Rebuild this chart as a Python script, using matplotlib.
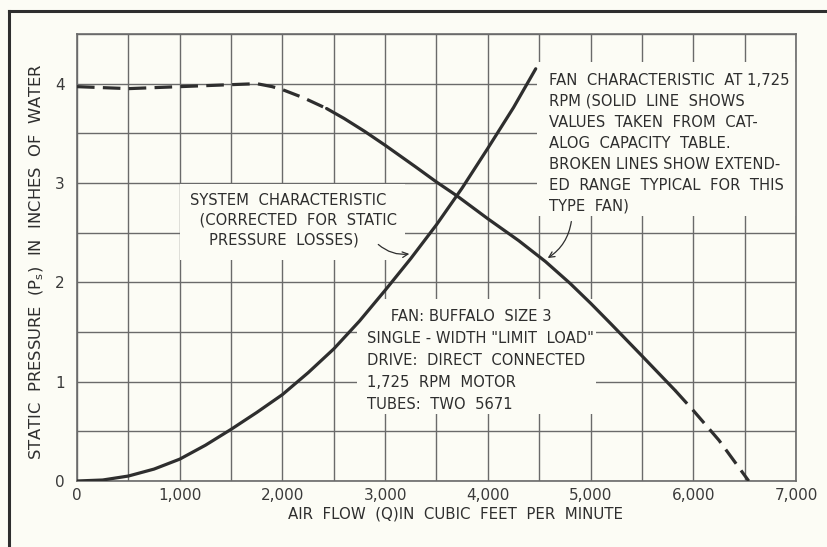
import numpy as np
import matplotlib
matplotlib.use('Agg')
import matplotlib.pyplot as plt
from matplotlib.patches import Rectangle

# fan characteristic at 1,725 rpm
fan_q = [0, 250, 500, 750, 1000, 1250, 1500, 1750, 1900, 2000, 2200, 2430, 2600, 2800, 3000, 3300, 3500,
         3700, 4000, 4300, 4560, 4800, 5000, 5200, 5500, 5825, 6000, 6250, 6540]
fan_p = [3.97, 3.96, 3.95, 3.96, 3.97, 3.98, 3.99, 4.0, 3.97, 3.94, 3.86, 3.75, 3.65, 3.52, 3.38, 3.16, 3.01,
         2.87, 2.64, 2.42, 2.21, 1.99, 1.79, 1.58, 1.26, 0.91, 0.71, 0.41, 0.0]
catalog_lo, catalog_hi = 2430, 5825   # solid part = catalog values

# system characteristic
sys_q = [0, 250, 500, 750, 1000, 1250, 1500, 1750, 2000, 2250, 2500, 2750, 3000, 3250, 3500, 3750, 4000, 4250, 4466]
sys_p = [0.0, 0.01, 0.05, 0.12, 0.22, 0.36, 0.52, 0.69, 0.87, 1.09, 1.33, 1.61, 1.92, 2.24, 2.58, 2.95, 3.35, 3.76, 4.15]

x_ticks = [0, 1000, 2000, 3000, 4000, 5000, 6000, 7000]
x_ticklabels = ["0", "1,000", "2,000", "3,000", "4,000", "5,000", "6,000", "7,000"]
y_ticks = [0, 1, 2, 3, 4]

fan_text = ("FAN  CHARACTERISTIC  AT 1,725\n"
            "RPM (SOLID  LINE  SHOWS\n"
            "VALUES  TAKEN  FROM  CAT-\n"
            "ALOG  CAPACITY  TABLE.\n"
            "BROKEN LINES SHOW EXTEND-\n"
            "ED  RANGE  TYPICAL  FOR  THIS\n"
            "TYPE  FAN)")
sys_text = ("SYSTEM  CHARACTERISTIC\n"
            "  (CORRECTED  FOR  STATIC\n"
            "    PRESSURE  LOSSES)")
info_text = ("     FAN: BUFFALO  SIZE 3\n"
             "SINGLE - WIDTH \"LIMIT  LOAD\"\n"
             "DRIVE:  DIRECT  CONNECTED\n"
             "1,725  RPM  MOTOR\n"
             "TUBES:  TWO  5671")

bg = '#fcfcf5'
ink = '#2e2e2e'
grid_c = '#6a6a6a'

plt.rcParams['font.family'] = ['DejaVu Sans']
fig = plt.figure(figsize=(8.28, 5.47), dpi=100, facecolor=bg)
ax = fig.add_axes([77 / 828, 1 - 481 / 547, (796 - 77) / 828, (481 - 34) / 547])
ax.set_facecolor(bg)

# outer frame of the figure (top and left edges visible)
fig.add_artist(plt.Line2D([9 / 828, 1.0], [1 - 11 / 547, 1 - 11 / 547], color=ink, lw=2.2, transform=fig.transFigure))
fig.add_artist(plt.Line2D([9 / 828, 9 / 828], [0.0, 1 - 11 / 547], color=ink, lw=2.2, transform=fig.transFigure))

ax.set_xlim(0, 7000)
ax.set_ylim(0, 4.5)
xs = np.arange(0, 7001, 500)
ys = np.arange(0, 4.51, 0.5)
ax.set_xticks(xs)
ax.set_yticks(ys)
ax.grid(True, color=grid_c, lw=1.0, zorder=0)
ax.set_axisbelow(True)
ax.set_xticklabels([x_ticklabels[x_ticks.index(int(v))] if int(v) in x_ticks else "" for v in xs])
ax.set_yticklabels([str(int(v)) if v in y_ticks else "" for v in ys])
ax.tick_params(length=0, labelsize=11, colors='#3a3a3a', pad=5)
ax.tick_params(axis='y', pad=9)
for s in ax.spines.values():
    s.set_color(grid_c)
    s.set_linewidth(1.2)

# blank areas behind the notes
for (x0, y0, w, h) in [(4480, 2.67, 2520, 1.55), (1000, 2.22, 2190, 0.77), (2730, 0.67, 2320, 1.16)]:
    ax.add_patch(Rectangle((x0, y0), w, h, facecolor=bg, edgecolor='none', zorder=1.5))

fq = np.array(fan_q)
fp = np.array(fan_p)
lo = fq <= catalog_lo
mid = (fq >= catalog_lo) & (fq <= catalog_hi)
hi = fq >= catalog_hi
dash = (0, (5.5, 2.6))
ax.plot(fq[lo], fp[lo], color=ink, lw=2.3, ls=dash, zorder=3)
ax.plot(fq[mid], fp[mid], color=ink, lw=2.3, zorder=3, solid_capstyle='round')
ax.plot(fq[hi], fp[hi], color=ink, lw=2.3, ls=dash, zorder=3)
ax.plot(sys_q, sys_p, color=ink, lw=2.3, zorder=3, solid_capstyle='round')

ax.text(4600, 4.11, fan_text, fontsize=10.6, color=ink, va='top', ha='left', linespacing=1.5, zorder=4)
ax.text(1100, 2.9, sys_text, fontsize=10.6, color=ink, va='top', ha='left', linespacing=1.4, zorder=4)
ax.text(2820, 1.73, info_text, fontsize=10.6, color=ink, va='top', ha='left', linespacing=1.58, zorder=4)

ax.annotate("", xy=(3262, 2.29), xytext=(2913, 2.40),
            arrowprops=dict(arrowstyle='->', color=ink, lw=0.9, connectionstyle='arc3,rad=0.25'), zorder=4)
ax.annotate("", xy=(4560, 2.23), xytext=(4816, 2.64),
            arrowprops=dict(arrowstyle='->', color=ink, lw=0.9, connectionstyle='arc3,rad=-0.25'), zorder=4)

ax.set_xlabel("AIR  FLOW  (Q)IN  CUBIC  FEET  PER  MINUTE", fontsize=10.8, color=ink)
ax.xaxis.set_label_coords(0.526, -0.056)
ax.set_ylabel("STATIC  PRESSURE  (P$_\\mathregular{s}$)  IN  INCHES  OF  WATER", fontsize=11.8, color=ink)
ax.yaxis.set_label_coords(-0.043, 0.49)

fig.savefig("out.png", dpi=100, facecolor=bg)
